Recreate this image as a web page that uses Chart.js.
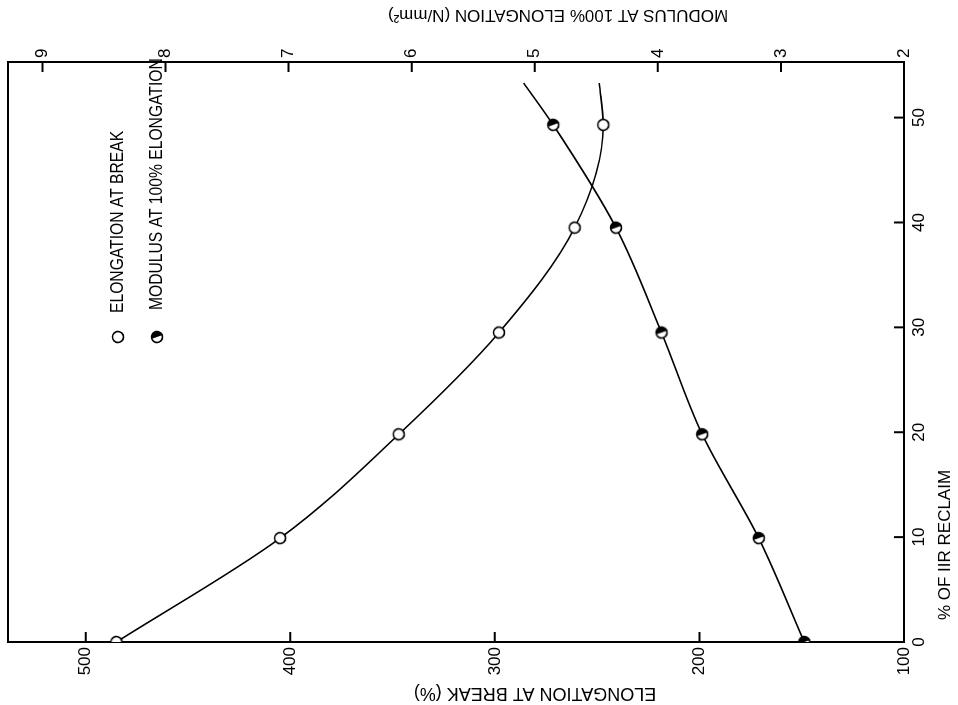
<!DOCTYPE html>
<html>
<head>
<meta charset="utf-8">
<title>Elongation and modulus vs IIR reclaim</title>
<script src="https://cdn.jsdelivr.net/npm/chart.js@4.4.1/dist/chart.umd.min.js"></script>
<style>
  html, body { margin: 0; padding: 0; background: #fff; overflow: hidden; }
  body { width: 958px; height: 705px; position: relative; }
  /* figure is laid out upright, then turned a quarter left onto the page */
  .figure {
    position: absolute; left: 0; top: 0;
    width: 705px; height: 958px;
    transform-origin: 0 0;
    transform: translate(0, 705px) rotate(-90deg);
  }
</style>
</head>
<body>
<div class="figure"><canvas id="chart" width="705" height="958"></canvas></div>
<script>
/* ── data ── */
const RECLAIM    = [0, 9.9, 19.8, 29.5, 39.5, 49.3];
const ELONGATION = [485, 405, 347, 298, 261, 247];
const MODULUS    = [2.81, 3.18, 3.64, 3.97, 4.34, 4.85];

// faired curves run on a little past the last measured point
const CURVE_END      = 53.3;
const ELONGATION_END = 249;
const MODULUS_END    = 5.09;

const RECLAIM_TICKS    = [0, 10, 20, 30, 40, 50];
const ELONGATION_TICKS = [100, 200, 300, 400, 500];
const MODULUS_TICKS    = [2, 3, 4, 5, 6, 7, 8, 9];

const LEGEND_LABELS = ['ELONGATION AT BREAK', 'MODULUS AT 100% ELONGATION'];
const X_TITLE  = '% OF IIR RECLAIM';
const Y_TITLE  = 'ELONGATION AT BREAK (%)';
const Y2_TITLE = 'MODULUS AT 100% ELONGATION (N/mm\u00B2)';

const FONT = '"Liberation Sans", Arial, sans-serif';
const TICK_LEN = 10;

/* ── markers: open ring, and ring with right half inked ── */
function marker(half) {
  const r = 5.5, lw = 1.6, size = 16, m = size / 2;
  const c = document.createElement('canvas');
  c.width = c.height = size;
  const g = c.getContext('2d');
  g.fillStyle = '#fff';
  g.beginPath(); g.arc(m, m, r, 0, Math.PI * 2); g.fill();
  if (half) {
    g.fillStyle = '#000';
    g.beginPath(); g.arc(m, m, r, -Math.PI / 2 - 0.35, Math.PI / 2 - 0.35); g.closePath(); g.fill();
  }
  g.lineWidth = lw; g.strokeStyle = '#000';
  g.beginPath(); g.arc(m, m, r, 0, Math.PI * 2); g.stroke();
  return c;
}
const OPEN_MARK = marker(false);
const HALF_MARK = marker(true);

function series(ys, endY) {
  const pts = RECLAIM.map((x, i) => ({ x, y: ys[i] }));
  pts.push({ x: CURVE_END, y: endY });
  return pts;
}
const isMeasured = ctx => ctx.dataIndex < RECLAIM.length;

// label room is set by hand, so drop the automatic edge padding
function fixSize(prop, value) {
  return s => {
    s[prop] = value;
    s.paddingTop = s.paddingBottom = s.paddingLeft = s.paddingRight = 0;
  };
}

/* ── tick marks point into the plot ── */
function drawInwardTicks(chart) {
  const { ctx, chartArea: a, scales } = chart;
  ctx.save();
  ctx.strokeStyle = '#000';
  ctx.lineWidth = 2;
  ctx.beginPath();
  scales.x.ticks.forEach(t => {
    const p = scales.x.getPixelForValue(t.value);
    ctx.moveTo(p, a.bottom);
    ctx.lineTo(p, a.bottom - TICK_LEN);
  });
  scales.y.ticks.forEach(t => {
    const p = scales.y.getPixelForValue(t.value);
    ctx.moveTo(a.left, p);
    ctx.lineTo(a.left + TICK_LEN, p);
  });
  scales.y2.ticks.forEach(t => {
    const p = scales.y2.getPixelForValue(t.value);
    ctx.moveTo(a.right, p);
    ctx.lineTo(a.right - TICK_LEN, p);
  });
  ctx.stroke();
  ctx.restore();
}

/* ── titles and key ── */
function drawFigureText(chart) {
  const { ctx } = chart;
  ctx.save();
  ctx.fillStyle = '#000';
  ctx.textBaseline = 'middle';

  // key, upper right of the plot
  const keyRows = [
    { img: OPEN_MARK, y: 118, tx: 392 },
    { img: HALF_MARK, y: 157, tx: 395 },
  ];
  keyRows.forEach((row, i) => {
    ctx.drawImage(row.img, 368 - row.img.width / 2, row.y - row.img.height / 2);
    ctx.save();
    ctx.translate(row.tx, row.y);
    ctx.scale(0.87, 1);
    ctx.font = '18px ' + FONT;
    ctx.textAlign = 'left';
    ctx.fillText(LEGEND_LABELS[i], 0, 0);
    ctx.restore();
  });

  // x title under the reclaim scale
  ctx.font = '17px ' + FONT;
  ctx.textAlign = 'center';
  ctx.fillText(X_TITLE, 160, 945);

  // y titles read upward
  ctx.save();
  ctx.translate(12, 535);
  ctx.rotate(-Math.PI / 2);
  ctx.font = '18px ' + FONT;
  ctx.fillText(Y_TITLE, 0, 0);
  ctx.restore();

  ctx.save();
  ctx.translate(690, 558);
  ctx.rotate(-Math.PI / 2);
  ctx.font = '17px ' + FONT;
  ctx.fillText(Y2_TITLE, 0, 0);
  ctx.restore();

  ctx.restore();
}

const figureExtras = {
  id: 'figureExtras',
  afterDraw(chart) {
    drawInwardTicks(chart);
    drawFigureText(chart);
  }
};

const tickFont = { family: FONT, size: 17 };
const noGrid = { drawOnChartArea: false, drawTicks: false };
const frame = { display: true, color: '#000', width: 2 };

new Chart(document.getElementById('chart'), {
  type: 'scatter',
  data: {
    datasets: [
      {
        label: LEGEND_LABELS[0],
        data: series(ELONGATION, ELONGATION_END),
        yAxisID: 'y',
        showLine: true,
        cubicInterpolationMode: 'monotone',
        borderColor: '#000',
        borderWidth: 1.6,
        pointStyle: OPEN_MARK,
        pointRadius: ctx => isMeasured(ctx) ? 5 : 0,
        clip: 0,
      },
      {
        label: LEGEND_LABELS[1],
        data: series(MODULUS, MODULUS_END),
        yAxisID: 'y2',
        showLine: true,
        cubicInterpolationMode: 'monotone',
        borderColor: '#000',
        borderWidth: 1.6,
        pointStyle: HALF_MARK,
        pointRadius: ctx => isMeasured(ctx) ? 5 : 0,
        clip: 0,
      }
    ]
  },
  options: {
    responsive: false,
    animation: false,
    events: [],
    layout: { padding: { top: 8, left: 0, right: 0, bottom: 0 } },
    plugins: { legend: { display: false }, tooltip: { enabled: false } },
    scales: {
      x: {
        type: 'linear', position: 'bottom', min: 0, max: 55.3,
        afterBuildTicks: s => { s.ticks = RECLAIM_TICKS.map(value => ({ value })); },
        afterFit: fixSize('height', 54),
        grid: noGrid, border: frame,
        ticks: { font: tickFont, color: '#000', padding: 5, maxRotation: 0, autoSkip: false }
      },
      xTop: {
        type: 'linear', position: 'top', min: 0, max: 55.3,
        afterFit: fixSize('height', 0),
        grid: noGrid, border: frame,
        ticks: { display: false }
      },
      y: {
        type: 'linear', position: 'left', min: 100, max: 538,
        afterBuildTicks: s => { s.ticks = ELONGATION_TICKS.map(value => ({ value })); },
        afterFit: fixSize('width', 63),
        grid: noGrid, border: frame,
        ticks: { font: tickFont, color: '#000', padding: 5, autoSkip: false }
      },
      y2: {
        type: 'linear', position: 'right', min: 2, max: 9.28,
        afterBuildTicks: s => { s.ticks = MODULUS_TICKS.map(value => ({ value })); },
        afterFit: fixSize('width', 62),
        grid: noGrid, border: frame,
        ticks: { font: tickFont, color: '#000', padding: 4, autoSkip: false }
      }
    }
  },
  plugins: [figureExtras]
});
</script>
</body>
</html>
